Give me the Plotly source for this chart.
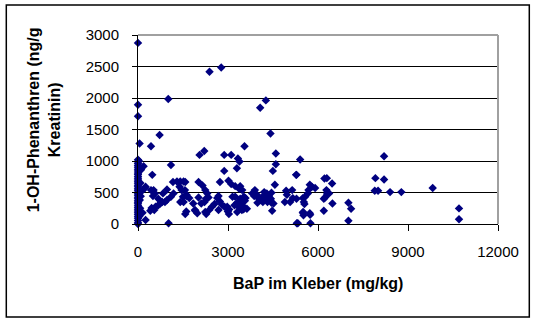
import plotly.graph_objects as go

# Column of samples at (near) zero BaP
x_zero = [0, 0, 0, 0, 0, 0, 0, 0, 0, 0, 0, 0, 0, 0, 0, 0, 0, 0, 0, 0, 0, 0, 0, 0, 0,
          0, 0, 0, 0, 0, 0, 0, 0, 0, 0, 0, 0, 0, 0, 0,
          40, 60, 80, 30, 100, 70, 120, 150, 90, 53]
y_zero = [0, 20, 55, 90, 120, 150, 180, 205, 235, 260, 290, 320, 345, 370, 400, 425, 455, 480, 505, 535, 560, 590, 615, 645, 670,
          700, 725, 755, 785, 810, 840, 870, 900, 930, 960, 990, 1020, 1709, 1894, 2875,
          120, 380, 650, 1000, 860, 250, 520, 180, 440, 1277]

# Remaining samples: BaP in adhesive (mg/kg) and 1-OH-phenanthrene (ng/g creatinine)
x_rest = [2384, 2774, 1009, 4073, 4262, 720, 4416,
          433, 3550, 2051, 2208, 2874, 3107, 3330, 3384, 4595, 5405, 1099, 2874, 3297,
          4595, 4495, 5272, 6214, 476, 186, 233, 8202, 6294, 6470, 7913, 8202,
          253, 1019, 253, 433, 520, 499, 566, 676, 743, 453, 586, 676, 809, 899, 966,
          1166, 1299, 1409, 1519, 1386, 1452, 1565, 1499, 1609, 1409, 1519, 1609,
          1099, 1186, 966, 833, 410, 543,
          1575, 2018, 2151, 2731, 3017, 3107, 3240, 3373, 2241, 2308, 2351, 2264, 2218,
          2108, 2018, 1708, 1618, 1842, 1908, 1975, 2241, 2374, 2464, 2551, 2641, 2684,
          2731, 2797, 2884, 2974, 2997, 3040, 3150, 3240, 3217, 3307, 3350, 3440, 3530,
          3463, 3307, 2684,
          4562, 3407, 3473, 3407, 3563, 3583, 3630, 3517, 3450, 3806, 3896, 3873, 3963,
          4029, 3983, 4096, 4183, 4206, 4295, 4362, 4449, 4429, 4449, 4516, 4472, 4316,
          4272, 4162, 4938, 4962, 4895, 5072, 5161, 5139, 5294,
          5727, 5794, 5904, 5682, 5661, 5571, 5528, 5548, 5283, 6281, 6304, 6370, 6194,
          6237, 6481, 5505, 5727, 6194, 7014, 7103, 7014, 5328, 5749, 5494, 6314,
          7892, 8002, 8402, 8778, 9823, 10700, 10700,
          1575, 2274, 1898, 3030, 3517, 5494, 5516, 5738, 5283]
y_rest = [2416, 2484, 1983, 1846, 1962, 1413, 1435,
          1234, 1234, 1097, 1160, 1097, 1097, 1040, 992, 1119, 1024, 938, 843, 886,
          949, 843, 780, 723, 780, 918, 570, 1076, 728, 644, 728, 707,
          63, 11, 590, 538, 538, 443, 486, 400, 327, 253, 274, 296, 348, 348, 380,
          665, 676, 676, 676, 590, 538, 538, 432, 443, 348, 348, 200,
          432, 486, 549, 486, 210, 222,
          665, 665, 612, 665, 685, 633, 601, 558, 538, 486, 422, 400, 348,
          327, 422, 411, 464, 327, 210, 169, 190, 222, 274, 316, 411, 443,
          359, 305, 274, 274, 200, 232, 432, 432, 296, 337, 274, 380, 432,
          222, 190, 222,
          622, 601, 538, 400, 369, 411, 242, 274, 296, 486, 538, 443, 464,
          400, 337, 380, 443, 506, 486, 443, 495, 400, 337, 327, 210, 348,
          400, 348, 527, 464, 348, 348, 411, 538, 11,
          622, 590, 570, 538, 486, 432, 348, 316, 400, 538, 475, 486, 400,
          422, 327, 190, 169, 210, 337, 242, 52, 11, 11, 411, 506,
          527, 527, 506, 506, 570, 248, 74,
          158, 158, 222, 158, 232, 179, 137, 148, 780]

x_all = x_zero + x_rest
y_all = y_zero + y_rest

x_ticks = [0, 3000, 6000, 9000, 12000]
y_ticks = [0, 500, 1000, 1500, 2000, 2500, 3000]

x_title = "BaP im Kleber (mg/kg)"
y_title = "1-OH-Phenanthren (ng/g<br>Kreatinin)"

FONT = "Liberation Sans, Arial, sans-serif"

fig = go.Figure()
fig.add_trace(go.Scatter(
    x=x_all, y=y_all, mode="markers",
    marker=dict(symbol="diamond", size=6.5, color="#000080", line=dict(width=0)),
    cliponaxis=False, showlegend=False,
))

W, H = 535, 320
L, R, T, B = 137.7, 497.7, 35, 224
pw, ph = R - L, B - T

def px_x(p):
    return (p - L) / pw

def px_y(p):
    return (B - p) / ph

fig.update_layout(
    width=W, height=H,
    margin=dict(l=L, r=W - R, t=T, b=H - B, pad=0),
    paper_bgcolor="white", plot_bgcolor="white",
    font=dict(family=FONT, size=15, color="black"),
    xaxis=dict(range=[0, 12000], tickvals=x_ticks, ticktext=[str(v) for v in x_ticks],
               ticks="outside", ticklen=6, tickcolor="black", tickwidth=1,
               showline=True, linecolor="black", linewidth=1,
               showgrid=False, zeroline=False, ticklabelstandoff=8,
               tickfont=dict(size=15, family=FONT)),
    yaxis=dict(range=[0, 3000], tickvals=y_ticks, ticktext=[str(v) for v in y_ticks],
               ticks="outside", ticklen=5, tickcolor="black", tickwidth=1,
               showline=True, linecolor="black", linewidth=1,
               showgrid=True, gridcolor="black", gridwidth=1,
               zeroline=False, ticklabelstandoff=10,
               tickfont=dict(size=15, family=FONT)),
    shapes=[
        dict(type="line", xref="paper", yref="paper", x0=0, x1=1, y0=1, y1=1,
             line=dict(color="#a0a0a0", width=2), layer="above"),
        dict(type="line", xref="paper", yref="paper", x0=1, x1=1, y0=0, y1=1,
             line=dict(color="#a0a0a0", width=2), layer="above"),
        dict(type="rect", xref="paper", yref="paper",
             x0=px_x(6), x1=px_x(529), y0=px_y(317), y1=px_y(5),
             line=dict(color="black", width=1.5), fillcolor="rgba(0,0,0,0)"),
    ],
    annotations=[
        dict(text="<b>" + x_title + "</b>", xref="paper", yref="paper",
             x=px_x(318), y=px_y(283), xanchor="center", yanchor="middle",
             showarrow=False, font=dict(size=16, family=FONT)),
        dict(text="<b>" + y_title + "</b>", xref="paper", yref="paper",
             x=px_x(44), y=px_y(120), xanchor="center", yanchor="middle",
             textangle=-90, showarrow=False, align="center",
             font=dict(size=16, family=FONT)),
    ],
)

fig.write_html("out.html")
